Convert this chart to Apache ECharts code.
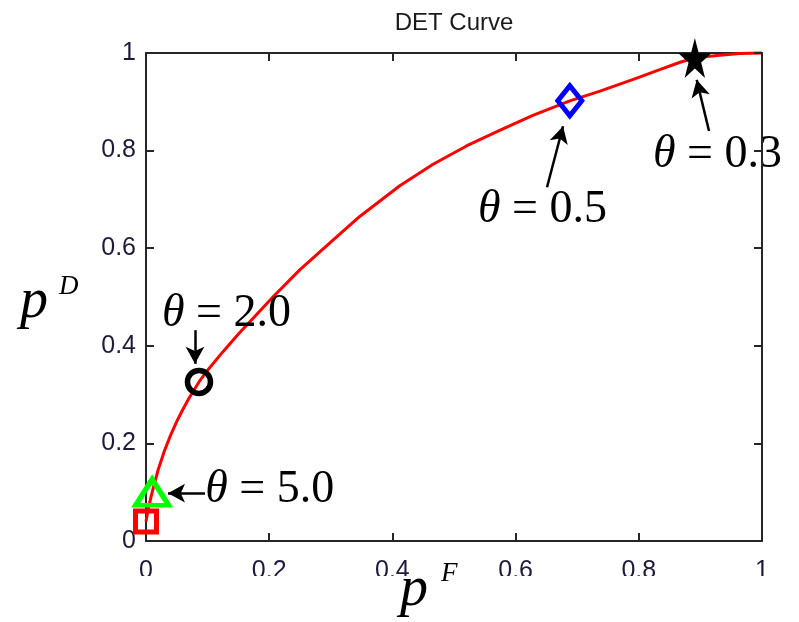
<!DOCTYPE html>
<html>
<head>
<meta charset="utf-8">
<script src="https://cdn.jsdelivr.net/npm/echarts@6/dist/echarts.min.js"></script>
<style>
  html, body { margin: 0; padding: 0; background: #ffffff; }
  #chart { width: 799px; height: 622px; }
</style>
</head>
<body>
<div id="chart"></div>
<script>
// DET curve: probability of detection vs probability of false alarm
const curveX = [0.000, 0.004, 0.010, 0.020, 0.030, 0.040, 0.050, 0.060, 0.070, 0.086,
                0.100, 0.125, 0.150, 0.169, 0.206, 0.250, 0.304, 0.347, 0.412, 0.466,
                0.521, 0.575, 0.628, 0.688, 0.737, 0.791, 0.834, 0.867, 0.891, 0.927,
                0.964, 1.000];
const curveY = [0.040, 0.068, 0.100, 0.147, 0.185, 0.217, 0.245, 0.270, 0.293, 0.326,
                0.350, 0.388, 0.424, 0.450, 0.500, 0.556, 0.617, 0.665, 0.728, 0.772,
                0.810, 0.842, 0.872, 0.902, 0.922, 0.946, 0.966, 0.981, 0.990, 0.995,
                0.999, 1.000];

// Operating points for selected thresholds
const pointX = [0.000, 0.010, 0.086, 0.688, 0.891];
const pointY = [0.040, 0.100, 0.326, 0.902, 0.990];

// Threshold annotations (text anchor = left/middle of the text)
const thetaText = ['2.0', '5.0', '0.5', '0.3'];
const thetaX    = [0.026, 0.096, 0.539, 0.823];
const thetaY    = [0.466, 0.105, 0.678, 0.792];

// Arrows from annotation text towards the operating points
const arrowFromX = [0.0795, 0.0958, 0.651, 0.914];
const arrowFromY = [0.432, 0.098, 0.725, 0.840];
const arrowToX   = [0.0795, 0.0357, 0.677, 0.894];
const arrowToY   = [0.363, 0.098, 0.850, 0.945];

const STAR = 'path://M50,0 L61.2,34.5 L97.6,34.5 L68.2,55.9 L79.4,90.5 L50,69.1 L20.6,90.5 L31.8,55.9 L2.4,34.5 L38.8,34.5 Z';

const axisColor = '#262626';
const labelColor = '#1e1a3a';

const chart = echarts.init(document.getElementById('chart'), null, { renderer: 'canvas' });

const baseAxis = {
  type: 'value', min: 0, max: 1, interval: 0.2,
  axisLine: { show: true, onZero: false, lineStyle: { color: axisColor, width: 2 } },
  axisTick: { show: true, inside: true, length: 8, lineStyle: { color: axisColor, width: 2 } },
  splitLine: { show: false }
};

const option = {
  backgroundColor: '#ffffff',
  animation: false,
  grid: { left: 146, right: 37, top: 53, bottom: 81, containLabel: false },
  xAxis: [
    Object.assign({}, baseAxis, {
      position: 'bottom',
      axisLabel: { show: true, margin: 18, fontFamily: 'Liberation Sans', fontSize: 25, color: labelColor }
    }),
    Object.assign({}, baseAxis, { position: 'top', axisLabel: { show: false } })
  ],
  yAxis: [
    Object.assign({}, baseAxis, {
      position: 'left',
      axisLabel: { show: true, margin: 10, fontFamily: 'Liberation Sans', fontSize: 25, color: labelColor }
    }),
    Object.assign({}, baseAxis, { position: 'right', z: 10, axisLabel: { show: false } })
  ],
  series: [
    {
      name: 'DET', type: 'line', clip: false, symbol: 'none', smooth: false,
      lineStyle: { color: '#ff0000', width: 3, opacity: 1, join: 'round' },
      data: curveX.map((x, i) => [x, curveY[i]]),
      z: 2
    },
    {
      name: 'points', type: 'scatter', clip: false, z: 3,
      itemStyle: { opacity: 1 },
      data: [
        { value: [pointX[0], pointY[0]], symbol: 'rect', symbolSize: 21,
          itemStyle: { color: 'rgba(0,0,0,0)', borderColor: '#ff0000', borderWidth: 5, opacity: 1 } },
        { value: [pointX[1], pointY[1]], symbol: 'triangle', symbolSize: [33, 26],
          itemStyle: { color: 'rgba(0,0,0,0)', borderColor: '#00ff00', borderWidth: 5, opacity: 1 } },
        { value: [pointX[2], pointY[2]], symbol: 'circle', symbolSize: 23,
          itemStyle: { color: 'rgba(0,0,0,0)', borderColor: '#000000', borderWidth: 5.5, opacity: 1 } },
        { value: [pointX[3], pointY[3]], symbol: 'diamond', symbolSize: [24, 30],
          itemStyle: { color: 'rgba(0,0,0,0)', borderColor: '#0000ff', borderWidth: 5, opacity: 1 } },
        { value: [pointX[4], pointY[4]], symbol: STAR, symbolSize: [33, 40],
          itemStyle: { color: '#000000', borderWidth: 0, opacity: 1 } }
      ]
    },
    {
      name: 'thresholds', type: 'scatter', clip: false, z: 4, symbolSize: 0, silent: true,
      itemStyle: { opacity: 1 },
      data: thetaText.map((t, i) => ({ value: [thetaX[i], thetaY[i]], name: t })),
      label: {
        show: true, position: 'right', distance: 0, opacity: 1,
        formatter: p => '{i|θ}{r| = ' + p.name + '}',
        rich: {
          i: { fontFamily: 'Liberation Serif', fontStyle: 'italic', fontSize: 46, color: '#000000' },
          r: { fontFamily: 'Liberation Serif', fontSize: 46, color: '#000000' }
        }
      },
      markLine: {
        silent: true, animation: false,
        symbol: ['none', 'arrow'], symbolSize: [14, 17],
        label: { show: false },
        lineStyle: { color: '#000000', width: 2.5, type: 'solid', opacity: 1 },
        itemStyle: { color: '#000000' },
        emphasis: { disabled: true },
        data: arrowFromX.map((x, i) => [
          { coord: [x, arrowFromY[i]] },
          { coord: [arrowToX[i], arrowToY[i]] }
        ])
      }
    }
  ],
  graphic: [
    { type: 'text', z: 60, x: 454, y: 23, style: { text: 'DET Curve', fontFamily: 'Liberation Sans', fontSize: 24, fill: '#1a1a1a', align: 'center', verticalAlign: 'middle' } },
    // band below the tick labels, as in the exported figure
    { type: 'rect', z: 50, shape: { x: 0, y: 576, width: 799, height: 46 }, style: { fill: '#ffffff' } },
    { type: 'text', z: 60, x: 20, y: 302, style: { text: 'p', fontFamily: 'Liberation Serif', fontStyle: 'italic', fontSize: 56, fill: '#000', verticalAlign: 'middle' } },
    { type: 'text', z: 60, x: 59, y: 287, style: { text: 'D', fontFamily: 'Liberation Serif', fontStyle: 'italic', fontSize: 27, fill: '#000', verticalAlign: 'middle' } },
    { type: 'text', z: 60, x: 400, y: 590, style: { text: 'p', fontFamily: 'Liberation Serif', fontStyle: 'italic', fontSize: 56, fill: '#000', verticalAlign: 'middle' } },
    { type: 'text', z: 60, x: 441, y: 574, style: { text: 'F', fontFamily: 'Liberation Serif', fontStyle: 'italic', fontSize: 27, fill: '#000', verticalAlign: 'middle' } }
  ]
};

chart.setOption(option);
</script>
</body>
</html>
